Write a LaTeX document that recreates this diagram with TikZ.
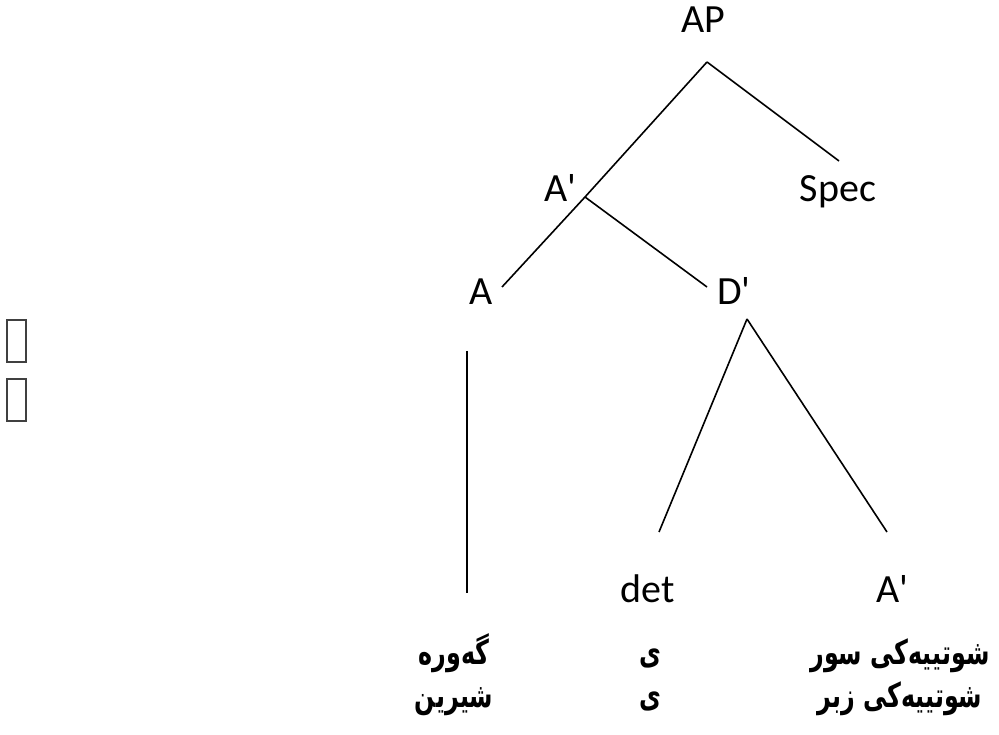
\documentclass[tikz,border=0pt]{standalone}
\usepackage{fontspec}
\TeXXeTstate=1
\newfontfamily\labelfont{Carlito}
\newfontfamily\arabicfont[Script=Arabic,FakeStretch=0.7]{DejaVu Sans}
\tikzset{
  lbl/.style={font=\labelfont\fontsize{40}{44}\selectfont, inner sep=0pt, anchor=base},
  ar/.style={font=\arabicfont\bfseries\fontsize{34}{38}\selectfont, inner sep=0pt, anchor=base},
  branch/.style={line width=1.6pt, black},
  tofu/.style={draw=black!75, line width=1.3pt}
}
\begin{document}
\begin{tikzpicture}[x=1pt,y=-1pt]
\useasboundingbox (0,0) rectangle (999,735);
% missing-glyph boxes
\draw[tofu] (7,320) rectangle (26,362);
\draw[tofu] (7,379) rectangle (26,421);
% labels
\node[lbl] (ap) at (703,33) {AP};
\node[lbl] (abar) at (560,202) {A'};
\node[lbl] (spec) at (838,202) {Spec};
\node[lbl] (a) at (481,305) {A};
\node[lbl] (dbar) at (734,305) {D'};
\node[lbl] (det) at (648,602) {det};
\node[lbl] (abarlow) at (892,602) {A'};
% Kurdish rows
\node[ar] (w1) at (454,664) {\beginR گەورە\endR};
\node[ar] (y1) at (650,664) {\beginR ی\endR};
\node[ar] (s1) at (900,664) {\beginR شوتییەکی سور\endR};
\node[ar] (w2) at (454,707) {\beginR شیرین\endR};
\node[ar] (y2) at (650,707) {\beginR ی\endR};
\node[ar] (s2) at (900,707) {\beginR شوتییەکی زبر\endR};
% branch points
\coordinate (apT) at (707,62);
\coordinate (abarJ) at (585,197);
\coordinate (specT) at (839,161);
\coordinate (aT) at (502,287);
\coordinate (dbarT) at (707,287);
\coordinate (dbarJ) at (747,319);
\coordinate (detT) at (659,532);
\coordinate (abarlowT) at (887,532);
\coordinate (aLineTop) at (467,351);
\coordinate (aLineBot) at (467,593);
% branches
\draw[branch] (apT) -- (abarJ) -- (aT);
\draw[branch] (apT) -- (specT);
\draw[branch] (abarJ) -- (dbarT);
\draw[branch] (dbarJ) -- (detT);
\draw[branch] (dbarJ) -- (abarlowT);
\draw[branch] (aLineTop) -- (aLineBot);
\end{tikzpicture}
\end{document}
